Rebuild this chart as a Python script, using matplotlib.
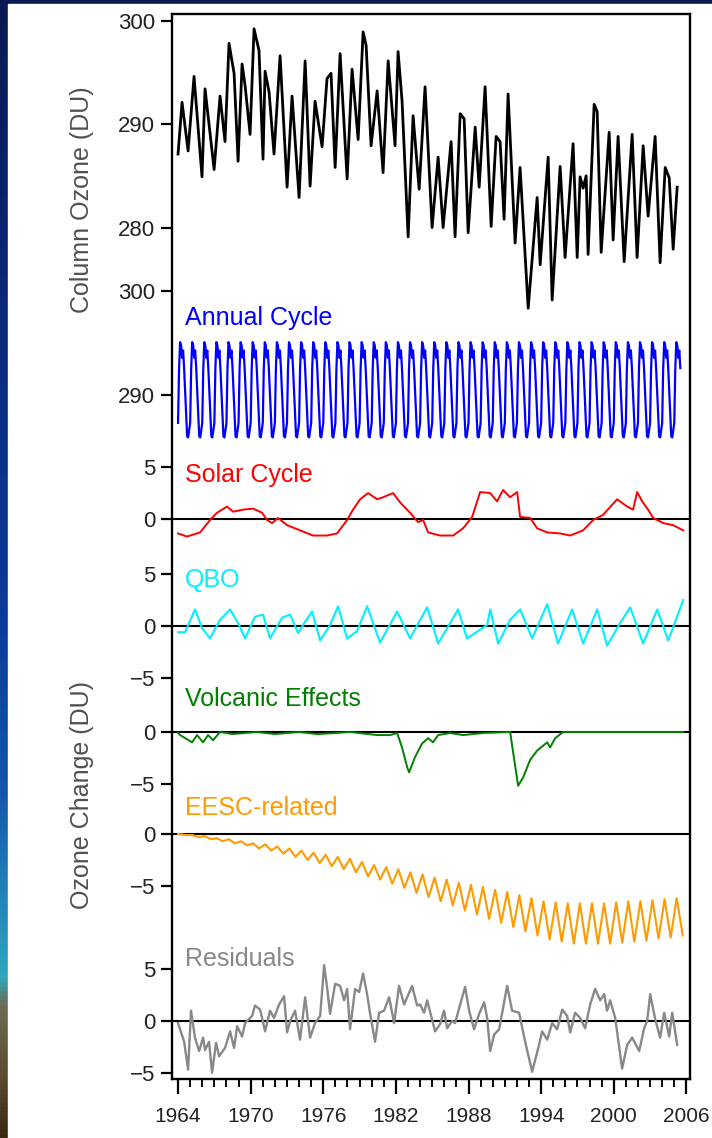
import numpy as np
import matplotlib.pyplot as plt
from matplotlib.colors import LinearSegmentedColormap
from matplotlib.patches import Rectangle
from matplotlib.ticker import MultipleLocator

plt.rcParams['font.family'] = ['Liberation Sans', 'DejaVu Sans']

# ---- data (DU) ----
# total column ozone, seasonal highs and lows
ozone_t = [1964.00, 1964.33, 1964.83, 1965.32, 1965.98, 1966.23, 1966.98, 1967.47, 1967.88,
           1968.21, 1968.63, 1968.96, 1969.29, 1969.54, 1969.95, 1970.28, 1970.69, 1971.02,
           1971.19, 1971.52, 1971.93, 1972.43, 1973.01, 1973.42, 1974.00, 1974.50, 1974.91,
           1975.32, 1975.90, 1976.31, 1976.64, 1976.98, 1977.39, 1977.97, 1978.38, 1978.88,
           1979.29, 1979.54, 1979.95, 1980.45, 1980.94, 1981.36, 1981.93, 1982.18, 1982.51,
           1983.01, 1983.42, 1983.92, 1984.41, 1984.99, 1985.49, 1985.90, 1986.56, 1986.89,
           1987.31, 1987.64, 1987.97, 1988.55, 1988.88, 1989.37, 1989.87, 1990.28, 1990.61,
           1990.94, 1991.27, 1991.85, 1992.26, 1992.93, 1993.67, 1993.92, 1994.58, 1994.91,
           1995.57, 1995.98, 1996.64, 1996.98, 1997.22, 1997.47, 1997.72, 1997.88, 1998.38,
           1998.63, 1998.96, 1999.62, 1999.95, 2000.36, 2000.86, 2001.52, 2001.93, 2002.43,
           2002.84, 2003.42, 2003.83, 2004.25, 2004.58, 2004.91, 2005.24]
ozone_du = [287.1, 292.1, 287.4, 294.6, 284.9, 293.4, 285.6, 292.7, 288.3,
            297.8, 294.9, 286.4, 295.8, 293.7, 289.0, 299.2, 297.1, 286.6,
            295.1, 293.1, 287.1, 296.6, 283.9, 292.7, 282.9, 296.1, 284.0,
            292.2, 287.8, 294.4, 294.9, 285.8, 296.8, 284.7, 295.3, 288.5,
            298.9, 297.6, 287.9, 293.2, 285.3, 296.1, 287.9, 297.0, 292.2,
            279.1, 290.8, 283.7, 293.6, 280.0, 286.8, 280.0, 288.3, 279.1,
            291.0, 290.5, 279.5, 289.7, 283.9, 293.6, 280.1, 288.8, 288.3,
            280.8, 292.9, 278.5, 285.8, 272.2, 282.9, 276.4, 286.8, 273.0,
            285.9, 277.1, 288.1, 277.1, 284.9, 283.8, 285.0, 277.4, 291.9,
            291.2, 277.6, 289.2, 278.8, 288.8, 276.7, 289.0, 277.1, 287.9,
            281.1, 288.8, 276.6, 285.8, 284.8, 277.9, 283.9]

# mean annual cycle, Jan..Dec
annual_clim = [287.3, 292.5, 295.1, 294.8, 293.6, 294.3, 292.6, 290.4, 288.0, 286.0, 285.9, 286.6]
n_months = 499  # Jan 1964 - Jul 2005

solar_t = [1964.00, 1964.74, 1965.82, 1966.64, 1967.22, 1968.05, 1968.55, 1969.37, 1970.20,
           1970.94, 1971.36, 1971.77, 1972.26, 1973.01, 1974.08, 1975.16, 1976.31, 1977.14,
           1977.97, 1978.46, 1979.04, 1979.70, 1980.45, 1980.94, 1981.77, 1982.35, 1983.17,
           1983.83, 1984.25, 1984.66, 1985.65, 1986.73, 1987.55, 1988.30, 1988.96, 1989.79,
           1990.36, 1990.86, 1991.44, 1992.02, 1992.26, 1993.09, 1993.67, 1994.50, 1995.57,
           1996.40, 1997.47, 1998.30, 1999.12, 2000.28, 2001.11, 2001.60, 2001.93, 2002.35,
           2002.84, 2003.26, 2004.08, 2004.91, 2005.74]
solar_du = [-1.4, -1.7, -1.3, -0.1, 0.6, 1.2, 0.7, 0.9, 1.0,
            0.6, -0.1, -0.4, 0.1, -0.6, -1.1, -1.6, -1.6, -1.4,
            -0.1, 0.9, 1.9, 2.5, 1.9, 2.1, 2.5, 1.6, 0.6,
            -0.3, -0.1, -1.3, -1.6, -1.6, -0.9, 0.2, 2.6, 2.5,
            1.7, 2.8, 2.1, 2.6, 0.2, 0.1, -0.9, -1.3, -1.4,
            -1.6, -1.1, -0.1, 0.4, 1.9, 1.2, 0.9, 2.6, 1.7,
            0.9, 0.1, -0.4, -0.6, -1.1]

qbo_t = [1964.00, 1964.58, 1965.40, 1965.98, 1966.64, 1967.47, 1968.30, 1968.96, 1969.54,
         1970.36, 1971.02, 1971.60, 1972.60, 1973.26, 1973.92, 1974.33, 1975.07, 1975.74,
         1976.56, 1977.22, 1977.97, 1978.79, 1979.62, 1980.69, 1982.10, 1983.17, 1984.58,
         1985.49, 1987.14, 1987.88, 1989.54, 1989.79, 1990.45, 1991.44, 1992.26, 1993.26,
         1994.50, 1995.40, 1996.56, 1997.47, 1998.63, 1999.45, 2000.53, 2001.36, 2002.43,
         2003.59, 2004.50, 2005.74]
qbo_du = [-0.6, -0.6, 1.6, -0.2, -1.2, 0.6, 1.6, 0.3, -1.2,
          0.9, 1.1, -1.2, 0.8, 1.1, -0.7, 0.1, 1.4, -1.4,
          0.1, 1.9, -1.2, -0.5, 1.9, -1.6, 1.4, -1.2, 1.8,
          -1.7, 1.6, -1.2, 0.1, 1.6, -1.7, 0.6, 1.6, -1.2,
          2.1, -1.7, 1.6, -1.7, 1.6, -1.9, 0.3, 1.8, -1.7,
          1.6, -1.4, 2.5]

volc_t = [1964.00, 1964.17, 1965.16, 1965.57, 1966.07, 1966.48, 1966.89, 1967.47, 1968.50,
          1970.50, 1972.00, 1974.00, 1975.50, 1977.00, 1978.21, 1980.45, 1981.52, 1982.10,
          1982.51, 1982.93, 1983.09, 1983.59, 1984.17, 1984.66, 1985.07, 1985.49, 1986.48,
          1987.55, 1989.21, 1991.44, 1991.69, 1992.10, 1992.51, 1993.09, 1993.67, 1994.50,
          1994.74, 1995.16, 1995.82, 2005.74]
volc_du = [-0.1, -0.3, -1.0, -0.3, -1.0, -0.3, -0.8, 0.0, -0.2,
           0.0, -0.2, 0.0, -0.2, -0.1, 0.0, -0.3, -0.3, -0.1,
           -1.5, -3.4, -3.9, -2.4, -1.1, -0.6, -1.0, -0.3, -0.1,
           -0.3, -0.1, 0.0, -2.0, -5.2, -4.4, -2.7, -1.8, -1.0,
           -1.5, -0.6, 0.0, 0.0]

# EESC-related term: yearly seasonal high / low
eesc_years = list(range(1964, 2006))
eesc_high = [0.0, -0.1, -0.2, -0.4, -0.5, -0.7, -0.9, -1.0, -1.2, -1.4, -1.6, -1.8, -2.0, -2.2,
             -2.4, -2.7, -3.0, -3.2, -3.4, -3.7, -3.9, -4.2, -4.4, -4.7, -4.9, -5.1, -5.4, -5.6,
             -5.9, -6.2, -6.5, -6.6, -6.7, -6.7, -6.7, -6.7, -6.6, -6.5, -6.5, -6.4, -6.3, -6.2]
eesc_low = [-0.1, -0.3, -0.5, -0.7, -0.9, -1.1, -1.4, -1.6, -1.9, -2.2, -2.5, -2.8, -3.1, -3.4,
            -3.7, -4.1, -4.4, -4.8, -5.2, -5.7, -6.1, -6.5, -6.9, -7.4, -7.8, -8.2, -8.6, -9.0,
            -9.4, -9.8, -10.2, -10.4, -10.6, -10.6, -10.6, -10.6, -10.5, -10.4, -10.3, -10.1,
            -10.0, -9.8]

resid_t = [1964.00, 1964.50, 1964.83, 1965.07, 1965.40, 1965.74, 1966.07, 1966.23, 1966.56,
           1966.81, 1967.14, 1967.39, 1967.88, 1968.30, 1968.63, 1968.88, 1969.29, 1969.54,
           1970.12, 1970.36, 1970.78, 1971.19, 1971.60, 1971.93, 1972.35, 1972.76, 1973.01,
           1973.26, 1973.67, 1974.08, 1974.50, 1974.91, 1975.32, 1975.74, 1976.07, 1976.31,
           1976.56, 1976.98, 1977.39, 1977.72, 1977.97, 1978.21, 1978.63, 1978.96, 1979.29,
           1979.62, 1979.87, 1980.28, 1980.61, 1981.02, 1981.44, 1981.85, 1982.26, 1982.68,
           1982.93, 1983.34, 1983.75, 1984.00, 1984.33, 1984.58, 1985.24, 1985.65, 1985.98,
           1986.23, 1986.64, 1986.89, 1987.31, 1987.72, 1988.05, 1988.46, 1988.88, 1989.29,
           1989.54, 1989.79, 1990.12, 1990.53, 1991.19, 1991.60, 1992.18, 1992.68, 1993.26,
           1993.83, 1994.08, 1994.50, 1994.91, 1995.32, 1995.74, 1996.15, 1996.40, 1996.81,
           1997.22, 1997.64, 1998.05, 1998.46, 1998.88, 1999.21, 1999.45, 1999.70, 2000.12,
           2000.69, 2001.11, 2001.52, 2002.10, 2002.51, 2002.76, 2003.01, 2003.42, 2003.83,
           2004.17, 2004.58, 2004.83, 2005.24]
resid_du = [-0.2, -2.0, -4.7, 1.0, -1.6, -2.9, -1.6, -2.8, -2.0,
            -5.0, -2.1, -3.4, -2.6, -1.0, -2.6, -0.5, -1.5, -0.2,
            0.5, 1.5, 1.1, -1.0, 1.0, 0.3, 1.6, 2.4, -1.1,
            0.0, 1.0, -1.8, 2.3, -1.6, -0.2, 0.5, 5.4, 3.3,
            0.7, 3.6, 3.4, 2.0, 3.1, -0.8, 3.1, 2.8, 4.6,
            2.6, 0.7, -2.0, 0.8, 1.0, 2.3, -0.2, 3.4, 1.6,
            2.3, 3.4, 1.5, 1.6, 0.8, 2.0, -1.0, -0.3, 1.0,
            -0.7, 0.0, -0.2, 1.6, 3.3, 1.0, -0.8, 0.7, 1.8,
            0.3, -2.9, -1.3, -0.8, 3.4, 1.0, 0.8, -2.0, -4.9,
            -2.3, -1.0, -1.8, -0.2, -0.8, 1.1, 0.5, -1.1, 0.8,
            0.3, -0.7, 1.6, 3.1, 2.0, 2.6, 1.0, 2.0, 0.3,
            -4.6, -2.3, -1.6, -2.9, -0.7, 0.0, 2.6, 0.2, -1.6,
            0.8, -1.5, 0.8, -2.3]

year_ticks = list(range(1964, 2007, 6))

# vertical placement of each strip on the shared DU scale
off_ozone = 92.27 - 290
off_annual = 66.09 - 290
off_solar = 54.11
off_qbo = 43.77
off_volc = 33.53
off_eesc = 23.67
off_resid = 5.60

# ---- figure with slide background ----
fig = plt.figure(figsize=(7.12, 11.38), dpi=100)
bg = fig.add_axes([0, 0, 1, 1])
slide = LinearSegmentedColormap.from_list('slide', [
    (0.00, '#0b1a52'), (0.30, '#0a2a7c'), (0.55, '#0a3b9c'), (0.70, '#1457ac'),
    (0.78, '#1f80b6'), (0.86, '#2ea7bf'), (0.885, '#6d6c52'), (0.95, '#5b4a2e'),
    (1.00, '#3a2812')])
bg.imshow(np.linspace(0, 1, 256).reshape(-1, 1), cmap=slide, aspect='auto',
          extent=[0, 1, 0, 1])
bg.add_patch(Rectangle((8 / 712, 0), 1, 1 - 4 / 1138, color='white'))
bg.set_xlim(0, 1)
bg.set_ylim(0, 1)
bg.set_axis_off()

ax = fig.add_axes([172 / 712, 59 / 1138, 518 / 712, 1065 / 1138])
ax.set_facecolor('white')
ax.set_xlim(1963.5, 2006.3)
ax.set_ylim(0, 102.9)

# ---- series ----
t_month = 1964 + np.arange(n_months) / 12
annual = np.tile(annual_clim, n_months // 12 + 1)[:n_months]

eesc_t, eesc_du = [], []
for y, hi, lo in zip(eesc_years, eesc_high, eesc_low):
    eesc_t += [y + 0.2, y + 0.7]
    eesc_du += [hi, lo]
eesc_t[0] = 1964.0

ax.plot(ozone_t, np.array(ozone_du) + off_ozone, color='black', lw=2.0)
ax.plot(t_month, annual + off_annual, color='#0000ff', lw=1.6)
ax.plot(solar_t, np.array(solar_du) + off_solar, color='#ff0000', lw=1.4)
ax.plot(qbo_t, np.array(qbo_du) + off_qbo, color='#00f0ff', lw=1.5)
ax.plot(volc_t, np.array(volc_du) + off_volc, color='#007f00', lw=1.4)
ax.plot(eesc_t, np.array(eesc_du) + off_eesc, color='#ff9a00', lw=1.5)
ax.plot(resid_t, np.array(resid_du) + off_resid, color='#888888', lw=1.7)

for off in [off_solar, off_qbo, off_volc, off_eesc, off_resid]:
    ax.axhline(off, color='black', lw=1.5, zorder=1)

# strip titles
lx = 1964.6
lab_kw = dict(fontsize=18, va='center')
ax.text(lx, 297.4 + off_annual, 'Annual Cycle', color='#0000ff', **lab_kw)
ax.text(lx, 4.25 + off_solar, 'Solar Cycle', color='#ff0000', **lab_kw)
ax.text(lx, 4.4 + off_qbo, 'QBO', color='#00f0ff', **lab_kw)
ax.text(lx, 3.2 + off_volc, 'Volcanic Effects', color='#007f00', **lab_kw)
ax.text(lx, 2.5 + off_eesc, 'EESC-related', color='#ff9a00', **lab_kw)
ax.text(lx, 6.0 + off_resid, 'Residuals', color='#888888', **lab_kw)

# ---- axes ----
ytick_pos, ytick_lab = [], []
for off, vals in [(off_ozone, [300, 290, 280]), (off_annual, [300, 290]),
                  (off_solar, [5, 0]), (off_qbo, [5, 0, -5]), (off_volc, [0, -5]),
                  (off_eesc, [0, -5]), (off_resid, [5, 0, -5])]:
    for v in vals:
        ytick_pos.append(v + off)
        ytick_lab.append(str(v).replace('-', '\u2212'))
ax.set_yticks(ytick_pos)
ax.set_yticklabels(ytick_lab)
ax.tick_params(axis='y', direction='out', length=8, width=1.6, pad=4,
               labelsize=16, labelcolor='#222222')

ax.set_xticks(year_ticks)
ax.xaxis.set_minor_locator(MultipleLocator(1))
ax.tick_params(axis='x', which='major', direction='out', length=11, width=1.6,
               pad=9, labelsize=15, labelcolor='#222222')
ax.tick_params(axis='x', which='minor', direction='out', length=6, width=1.4)

for s in ax.spines.values():
    s.set_linewidth(1.7)

fig.text(82 / 712, 1 - 200 / 1138, 'Column Ozone (DU)', rotation=90, ha='center',
         va='center', fontsize=18, color='#505050')
fig.text(82 / 712, 1 - 795 / 1138, 'Ozone Change (DU)', rotation=90, ha='center',
         va='center', fontsize=18, color='#505050')

fig.savefig('out.png', dpi=100)
